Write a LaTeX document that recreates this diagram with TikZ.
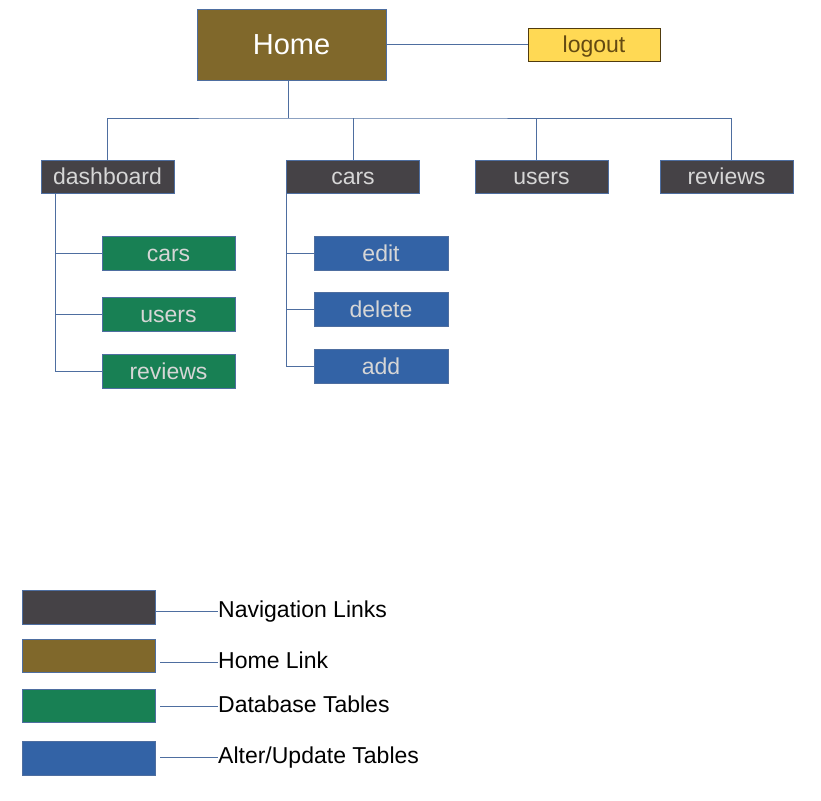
\documentclass[tikz,border=0pt]{standalone}
\usepackage{fontspec}
\setmainfont{Liberation Sans}
\usetikzlibrary{positioning}
\definecolor{navgray}{RGB}{69,66,70}
\definecolor{homebrown}{RGB}{128,104,43}
\definecolor{tablegreen}{RGB}{24,128,84}
\definecolor{alterblue}{RGB}{51,99,166}
\definecolor{logoutyellow}{RGB}{255,217,84}
\definecolor{logouttext}{RGB}{100,74,18}
\definecolor{linkblue}{RGB}{78,110,160}
\definecolor{boxtext}{RGB}{214,214,214}

\begin{document}
\begin{tikzpicture}[x=1pt, y=-1pt,
  box/.style={draw=linkblue, line width=0.8pt, minimum width=133pt, minimum height=34pt,
    inner sep=0pt, text=boxtext, text height=21pt, text depth=5pt,
    font=\fontsize{23}{27}\selectfont},
  navbox/.style={box, fill=navgray, minimum height=33pt},
  tablebox/.style={box, fill=tablegreen},
  alterbox/.style={box, fill=alterblue, minimum width=134pt},
  legendlabel/.style={anchor=west, inner sep=0pt, text=black, text height=17pt, text depth=5pt,
    font=\fontsize{23}{27}\selectfont},
  link/.style={draw=linkblue, line width=1pt}]
  \useasboundingbox (0,0) rectangle (821,800);
  % Home and logout
  \node[box, fill=homebrown, minimum width=189pt, minimum height=71pt, text=white,
    text height=27pt, text depth=6pt, font=\fontsize{29}{34}\selectfont] (home) at (291.5,44.5) {Home};
  \node[box, fill=logoutyellow, draw=logouttext!80!black, minimum width=132pt, minimum height=33pt,
    text=logouttext] (logout) at (594,44.5) {logout};
  \draw[link] (home.east) -- (logout.west);
  % Navigation links
  \node[navbox] (dash) at (107.5,176.5) {dashboard};
  \node[navbox] (carsnav) at (353,176.5) {cars};
  \node[navbox] (usersnav) at (541.5,176.5) {users};
  \node[navbox] (reviewsnav) at (726.5,176.5) {reviews};
  \coordinate (bus) at (288,118);
  \draw[link] (home.south -| bus) -- (bus);
  \draw[link] (dash.north) |- (bus) -| ([xshift=5pt]reviewsnav.north);
  \draw[link] (carsnav.north) -- (carsnav.north |- bus);
  \draw[link] ([xshift=-5pt]usersnav.north) -- ([xshift=-5pt]usersnav.north |- bus);
  % Dashboard tables
  \node[tablebox] (dcars) at (168.5,253) {cars};
  \node[tablebox] (dusers) at (168.5,314) {users};
  \node[tablebox] (dreviews) at (168.5,371) {reviews};
  \coordinate (dtrunk) at ([xshift=15pt]dash.south west);
  \draw[link] (dtrunk) |- (dreviews.west);
  \draw[link] (dtrunk |- dcars.west) -- (dcars.west);
  \draw[link] (dtrunk |- dusers.west) -- (dusers.west);
  % Cars actions
  \node[alterbox] (cedit) at (381,253) {edit};
  \node[alterbox] (cdelete) at (381,309) {delete};
  \node[alterbox] (cadd) at (381,366) {add};
  \coordinate (ctrunk) at (carsnav.south west);
  \draw[link] (ctrunk) |- (cadd.west);
  \draw[link] (ctrunk |- cedit.west) -- (cedit.west);
  \draw[link] (ctrunk |- cdelete.west) -- (cdelete.west);
  % Legend
  \node[navbox, minimum height=34pt] (lnav) at (88.5,607) {};
  \node[box, fill=homebrown, minimum height=33pt] (lhome) at (88.5,655.5) {};
  \node[tablebox, minimum height=33pt] (ltable) at (88.5,705.5) {};
  \node[alterbox, minimum width=133pt] (lalter) at (88.5,758) {};
  \node[legendlabel] (tnav) at (218,611) {Navigation Links};
  \node[legendlabel] (thome) at (218,662) {Home Link};
  \node[legendlabel] (ttable) at (218,706) {Database Tables};
  \node[legendlabel] (talter) at (218,757) {Alter/Update Tables};
  \draw[link] (lnav.east |- tnav.west) -- (tnav.west);
  \draw[link] ([xshift=5pt]lhome.east |- thome.west) -- (thome.west);
  \draw[link] ([xshift=5pt]ltable.east |- ttable.west) -- (ttable.west);
  \draw[link] ([xshift=5pt]lalter.east |- talter.west) -- (talter.west);
\end{tikzpicture}
\end{document}
